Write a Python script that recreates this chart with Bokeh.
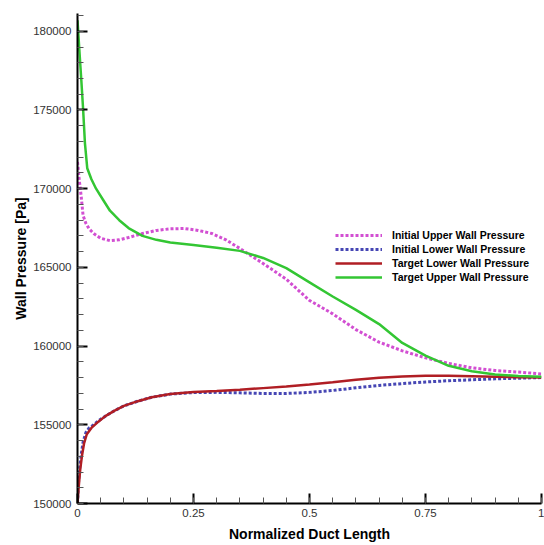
from bokeh.plotting import figure
from bokeh.models import FixedTicker, Range1d, Legend, LegendItem, NumeralTickFormatter
from bokeh.embed import file_html
from bokeh.resources import INLINE

# Initial Upper Wall Pressure
x_iu = [0, 0.004, 0.008, 0.012, 0.018, 0.025, 0.035, 0.05, 0.07, 0.09, 0.11, 0.14, 0.17, 0.2, 0.23,
        0.26, 0.29, 0.32, 0.35, 0.4, 0.45, 0.5, 0.55, 0.6, 0.65, 0.7, 0.75, 0.8, 0.85, 0.9, 0.95, 1.0]
y_iu = [171700, 170500, 169500, 168300, 167800, 167450, 167150, 166850, 166700, 166750, 166900, 167150,
        167350, 167450, 167470, 167350, 167150, 166750, 166200, 165250, 164250, 162900, 162050, 161050,
        160250, 159700, 159250, 158900, 158620, 158450, 158350, 158230]

# Initial Lower Wall Pressure
x_il = [0, 0.002, 0.005, 0.008, 0.012, 0.018, 0.025, 0.035, 0.045, 0.06, 0.08, 0.1, 0.13, 0.16, 0.2,
        0.25, 0.3, 0.35, 0.4, 0.45, 0.5, 0.55, 0.6, 0.65, 0.7, 0.75, 0.8, 0.85, 0.9, 0.95, 1.0]
y_il = [150000, 151300, 152300, 153100, 153900, 154500, 154800, 155000, 155250, 155550, 155900, 156200,
        156500, 156750, 156950, 157050, 157060, 157030, 156990, 156990, 157060, 157180, 157350, 157500,
        157620, 157720, 157800, 157860, 157920, 157960, 158000]

# Target Lower Wall Pressure
x_tl = [0, 0.003, 0.006, 0.01, 0.014, 0.02, 0.03, 0.045, 0.06, 0.08, 0.1, 0.13, 0.16, 0.2, 0.25, 0.3,
        0.35, 0.4, 0.45, 0.5, 0.55, 0.6, 0.65, 0.7, 0.75, 0.8, 0.85, 0.9, 0.95, 1.0]
y_tl = [150000, 151200, 152200, 153100, 153800, 154400, 154800, 155200, 155550, 155900, 156200, 156500,
        156750, 156950, 157080, 157150, 157230, 157330, 157430, 157560, 157700, 157860, 157990, 158070,
        158110, 158110, 158080, 158050, 158020, 158000]

# Target Upper Wall Pressure
x_tu = [0, 0.004, 0.008, 0.012, 0.016, 0.021, 0.03, 0.04, 0.055, 0.07, 0.09, 0.11, 0.14, 0.17, 0.2,
        0.25, 0.3, 0.35, 0.4, 0.45, 0.5, 0.55, 0.6, 0.65, 0.7, 0.75, 0.8, 0.85, 0.9, 0.95, 1.0]
y_tu = [180700, 178800, 177000, 175100, 172900, 171300, 170600, 170000, 169300, 168600, 168000, 167500,
        167000, 166750, 166580, 166420, 166250, 166050, 165600, 164950, 164050, 163150, 162300, 161400,
        160200, 159400, 158750, 158400, 158200, 158100, 158050]

x_ticks = [0, 0.25, 0.5, 0.75, 1]
x_tick_labels = {0: "0", 0.25: "0.25", 0.5: "0.5", 0.75: "0.75", 1: "1"}
x_minor = [i * 0.05 for i in range(21)]
y_ticks = [150000, 155000, 160000, 165000, 170000, 175000, 180000]
y_minor = list(range(150000, 182000, 1000))

names = ["Initial Upper Wall Pressure", "Initial Lower Wall Pressure",
         "Target Lower Wall Pressure", "Target Upper Wall Pressure"]

FONT = "Liberation Sans"

p = figure(width=544, height=545, output_backend="svg", toolbar_location=None,
           x_range=Range1d(0, 1), y_range=Range1d(150000, 181130),
           min_border_left=77, min_border_right=3, min_border_top=13, min_border_bottom=42)
p.outline_line_color = None
p.grid.visible = False
p.background_fill_color = "white"

r1 = p.line(x_iu, y_iu, line_color="#d24fd2", line_width=3, line_dash="3 2")
r2 = p.line(x_il, y_il, line_color="#4646b4", line_width=3, line_dash="3 2")
r3 = p.line(x_tl, y_tl, line_color="#b01e24", line_width=2.5)
r4 = p.line(x_tu, y_tu, line_color="#33c633", line_width=2.5)

for ax in (p.xaxis[0], p.yaxis[0]):
    ax.axis_line_width = 2
    ax.axis_line_color = "black"
    ax.major_tick_in = 10
    ax.major_tick_out = 0
    ax.major_tick_line_width = 2
    ax.major_tick_line_color = "black"
    ax.minor_tick_in = 6
    ax.minor_tick_out = 0
    ax.minor_tick_line_color = "#555555"
    ax.minor_tick_line_width = 1
    ax.major_label_text_font = FONT
    ax.major_label_text_font_size = "11.5px"
    ax.major_label_text_color = "#333333"
    ax.axis_label_text_font = FONT
    ax.axis_label_text_font_size = "14px"
    ax.axis_label_text_font_style = "bold"
    ax.axis_label_text_color = "black"

p.xaxis[0].ticker = FixedTicker(ticks=x_ticks, minor_ticks=x_minor)
p.xaxis[0].major_label_overrides = x_tick_labels
p.xaxis[0].axis_label = "Normalized Duct Length"
p.xaxis[0].major_label_standoff = 5
p.xaxis[0].axis_label_standoff = 6

p.yaxis[0].ticker = FixedTicker(ticks=y_ticks, minor_ticks=y_minor)
p.yaxis[0].formatter = NumeralTickFormatter(format="0")
p.yaxis[0].axis_label = "Wall Pressure [Pa]"
p.yaxis[0].major_label_standoff = 6
p.yaxis[0].axis_label_standoff = 1

legend = Legend(items=[LegendItem(label=names[0], renderers=[r1]),
                       LegendItem(label=names[1], renderers=[r2]),
                       LegendItem(label=names[2], renderers=[r3]),
                       LegendItem(label=names[3], renderers=[r4])],
                location=(258, 219))
legend.border_line_alpha = 0
legend.background_fill_alpha = 0
legend.padding = 0
legend.margin = 0
legend.spacing = 0
legend.glyph_width = 47
legend.glyph_height = 14
legend.label_height = 14
legend.label_standoff = 10
legend.label_text_font = FONT
legend.label_text_font_size = "10.5px"
legend.label_text_font_style = "bold"
legend.label_text_color = "black"
p.add_layout(legend)

open("out.html", "w").write(file_html(p, INLINE))
